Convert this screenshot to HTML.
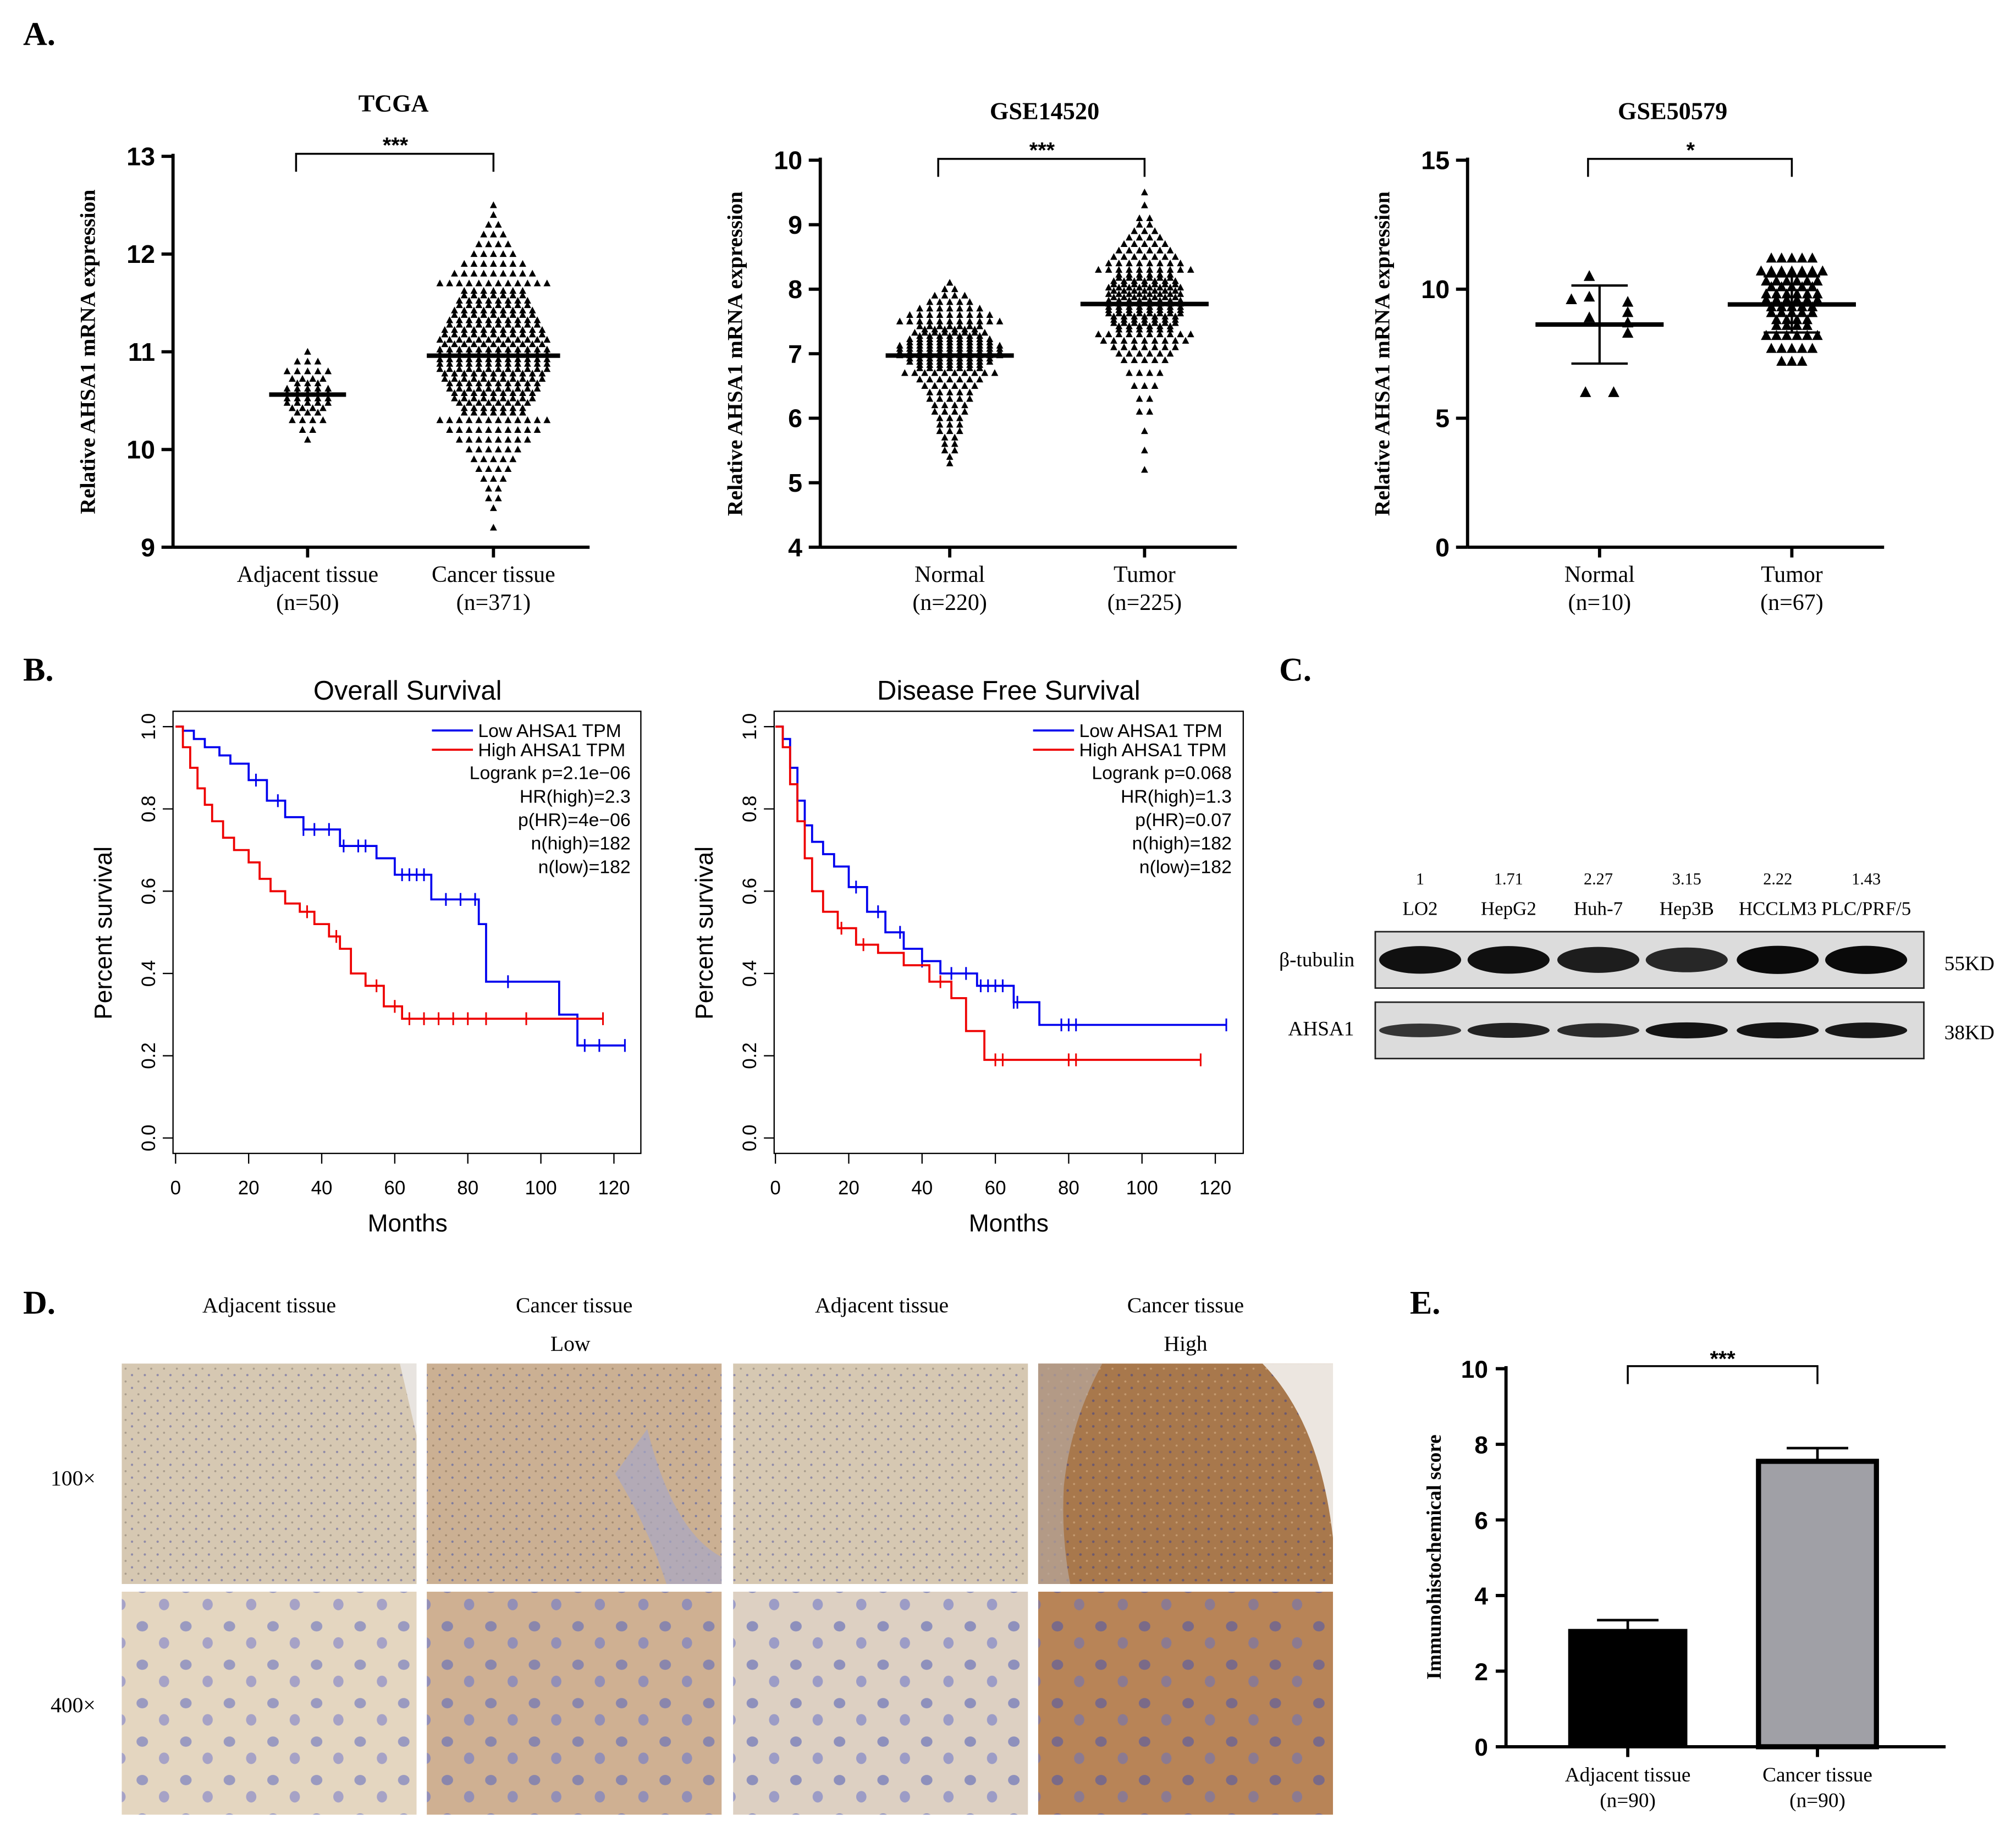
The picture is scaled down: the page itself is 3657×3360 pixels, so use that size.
<!DOCTYPE html>
<html><head><meta charset="utf-8">
<style>
html,body{margin:0;padding:0;background:#fff;}
svg{display:block;}
.serif{font-family:"Liberation Serif",serif;}
.sans{font-family:"Liberation Sans",sans-serif;}
</style></head>
<body>
<svg id="fig" width="3657" height="3360" viewBox="0 0 1569 1442" preserveAspectRatio="none" xmlns="http://www.w3.org/2000/svg">
<defs>
<pattern id="tex1" width="10" height="10" patternUnits="userSpaceOnUse">
<rect width="10" height="10" fill="#d6c8b2"/><circle cx="3" cy="3" r="0.9" fill="#8f8aa8"/><circle cx="8" cy="8" r="0.8" fill="#a89c8c"/>
</pattern>
<pattern id="tex2" width="10" height="10" patternUnits="userSpaceOnUse">
<rect width="10" height="10" fill="#cbb093"/><circle cx="3" cy="3" r="0.9" fill="#7f7c9e"/><circle cx="8" cy="8" r="0.8" fill="#a48b70"/>
</pattern>
<pattern id="tex3" width="10" height="10" patternUnits="userSpaceOnUse">
<rect width="10" height="10" fill="#a8784c"/><circle cx="3" cy="3" r="1" fill="#6e5a6e"/><circle cx="8" cy="8" r="0.8" fill="#c49a70"/>
</pattern>
<pattern id="cells1" width="34" height="30" patternUnits="userSpaceOnUse">
<rect width="34" height="30" fill="#e4d6c0"/><ellipse cx="9" cy="9" rx="4.5" ry="4" fill="#9a9ac0"/><ellipse cx="26" cy="22" rx="4" ry="4.5" fill="#a6a2c6"/>
</pattern>
<pattern id="cells2" width="34" height="30" patternUnits="userSpaceOnUse">
<rect width="34" height="30" fill="#cfb092"/><ellipse cx="9" cy="9" rx="4.5" ry="4" fill="#8a86ac"/><ellipse cx="26" cy="22" rx="4" ry="4.5" fill="#938fb6"/>
</pattern>
<pattern id="cells3" width="34" height="30" patternUnits="userSpaceOnUse">
<rect width="34" height="30" fill="#ddd0c2"/><ellipse cx="9" cy="9" rx="4.5" ry="4" fill="#8e90bc"/><ellipse cx="26" cy="22" rx="4" ry="4.5" fill="#9c9cc6"/>
</pattern>
<pattern id="cells4" width="34" height="30" patternUnits="userSpaceOnUse">
<rect width="34" height="30" fill="#b88457"/><ellipse cx="9" cy="9" rx="4.5" ry="4" fill="#7a6a88"/><ellipse cx="26" cy="22" rx="4" ry="4.5" fill="#8c7a90"/>
</pattern>
</defs>

<g class="serif" font-size="26" font-weight="bold">
<text x="18" y="35">A.</text>
<text x="18" y="531">B.</text>
<text x="998" y="531">C.</text>
<text x="18" y="1025">D.</text>
<text x="1100" y="1025">E.</text>
</g>

<g id="panelA"></g>
<g id="panelB" class="sans"></g>
<g id="panelC" class="serif"></g>
<g id="panelD" class="serif"></g>
<g id="panelE" class="serif"></g>
</svg>

<script>
// ---------- DATA ----------
const tcgaAdjBins = [10.1,10.2,10.3,10.4,10.5,10.6,10.7,10.8,10.9,11.0];
const tcgaAdjCounts = [1,2,4,7,10,10,7,5,3,1];
const tcgaCanBins = [9.2,9.3,9.4,9.5,9.6,9.7,9.8,9.9,10.0,10.1,10.2,10.3,10.4,10.5,10.6,10.7,10.8,10.9,11.0,11.1,11.2,11.3,11.4,11.5,11.6,11.7,11.8,11.9,12.0,12.1,12.2,12.3,12.4,12.5];
const tcgaCanCounts = [1,0,1,2,2,3,4,5,6,8,10,12,14,17,19,21,23,24,24,23,22,20,18,16,14,12,9,7,5,4,3,2,1,1];
const g14NorBins = [5.3,5.4,5.5,5.6,5.7,5.8,5.9,6.0,6.1,6.2,6.3,6.4,6.5,6.6,6.7,6.8,6.9,7.0,7.1,7.2,7.3,7.4,7.5,7.6,7.7,7.8,7.9,8.0,8.1];
const g14NorCounts = [1,1,2,2,2,3,3,3,4,4,5,5,6,7,10,14,18,22,22,18,15,13,11,9,7,5,4,2,1];
const g14TumBins = [5.2,5.5,5.8,6.1,6.3,6.5,6.7,6.9,7.0,7.1,7.2,7.3,7.4,7.5,7.6,7.7,7.8,7.9,8.0,8.1,8.2,8.3,8.4,8.5,8.6,8.7,8.8,8.9,9.0,9.1,9.3,9.5];
const g14TumCounts = [1,1,1,2,2,3,4,5,6,7,9,10,12,14,15,16,16,15,15,14,12,10,8,7,6,5,4,3,2,2,1,1];
const g50NorValues = [10.5,9.7,9.6,9.5,9.1,8.9,8.7,8.3,6.0,6.0];
const g50TumBins = [7.2,7.7,8.2,8.7,9.2,9.7,10.2,10.7,11.2];
const g50TumCounts = [3,5,6,8,10,12,11,7,5];
const osLowT = [0,2,5,8,12,15,20,25,30,35,45,55,60,70,83,85,105,110,123];
const osLowS = [1,0.99,0.97,0.95,0.93,0.91,0.87,0.82,0.78,0.75,0.71,0.68,0.64,0.58,0.52,0.38,0.30,0.225,0.225];
const osLowCens = [22,28,35,38,42,46,50,52,62,64,66,68,74,78,82,91,112,116,123];
const osHighT = [0,2,4,6,8,10,13,16,20,23,26,30,34,38,42,45,48,52,57,62,117];
const osHighS = [1,0.95,0.90,0.85,0.81,0.77,0.73,0.70,0.67,0.63,0.60,0.57,0.55,0.52,0.49,0.46,0.40,0.37,0.32,0.29,0.29];
const osHighCens = [36,44,55,60,64,68,72,76,80,85,96,117];
const dfsLowT = [0,2,4,6,8,10,13,16,20,25,30,35,40,45,55,65,72,123];
const dfsLowS = [1,0.97,0.90,0.82,0.76,0.72,0.69,0.66,0.61,0.55,0.50,0.46,0.43,0.40,0.37,0.33,0.275,0.275];
const dfsLowCens = [22,28,34,40,48,52,56,58,60,62,65,66,78,80,82,123];
const dfsHighT = [0,2,4,6,8,10,13,17,22,28,35,42,48,52,57,116];
const dfsHighS = [1,0.95,0.86,0.77,0.68,0.60,0.55,0.51,0.47,0.45,0.42,0.38,0.34,0.26,0.19,0.19];
const dfsHighCens = [18,24,45,60,62,80,82,116];
const blotLanes = ["LO2","HepG2","Huh-7","Hep3B","HCCLM3","PLC/PRF/5"];
const blotRatios = ["1","1.71","2.27","3.15","2.22","1.43"];
const tubulinIntensity = [0.95,0.95,0.8,0.7,1.0,1.0];
const ahsaIntensity = [0.55,0.75,0.65,0.9,0.9,0.85];
const ihcCats = ["Adjacent  tissue","Cancer tissue"];
const ihcN = ["(n=90)","(n=90)"];
const ihcMeans = [3.1,7.55];
const ihcErr = [0.25,0.35];

// ---------- HELPERS ----------
const NS="http://www.w3.org/2000/svg";
function mk(tag, attrs, parent){const e=document.createElementNS(NS,tag);for(const k in attrs)e.setAttribute(k,attrs[k]);parent.appendChild(e);return e;}
function txt(parent,x,y,s,attrs){const e=mk('text',Object.assign({x:x,y:y},attrs||{}),parent);e.textContent=s;return e;}
function tri(cx,cy,s){return `M${cx},${cy-s*0.6}L${cx+s*0.55},${cy+s*0.45}L${cx-s*0.55},${cy+s*0.45}Z`;}

// ---------- PANEL A ----------
const A=document.getElementById('panelA');
function scatterPanel(cfg){
  const g=mk('g',{},A);
  
  
  const y=v=>cfg.y0-(v-cfg.vmin)*(cfg.y0-cfg.y1)/(cfg.vmax-cfg.vmin);
  let e=mk('line',{x1:cfg.x0,y1:cfg.y1-2,x2:cfg.x0,y2:cfg.y0,stroke:'#000','stroke-width':2.5},g);
  
  
  e=mk('line',{x1:cfg.x0,y1:cfg.y0,x2:cfg.xe,y2:cfg.y0,stroke:'#000','stroke-width':2.5},g);
  
  
  cfg.ticks.forEach(t=>{
    e=mk('line',{x1:cfg.x0-9,y1:y(t),x2:cfg.x0,y2:y(t),stroke:'#000','stroke-width':2.5},g);
    
    
    e=txt(g,cfg.x0-14,y(t)+7,String(t),{'text-anchor':'end','font-family':'Liberation Sans, sans-serif','font-weight':'bold','font-size':20});
    
    
  });
  cfg.cx.forEach(x=>{
    e=mk('line',{x1:x,y1:cfg.y0,x2:x,y2:cfg.y0+8,stroke:'#000','stroke-width':2.5},g);
    
    
  });
  e=txt(g,cfg.titleX,cfg.titleY,cfg.title,{'text-anchor':'middle','font-family':'Liberation Serif, serif','font-weight':'bold','font-size':19});
  
  
  e=txt(g,0,0,'Relative AHSA1 mRNA expression',{'text-anchor':'middle','font-family':'Liberation Serif, serif','font-weight':'bold','font-size':17,transform:`translate(${cfg.x0-61},${(cfg.y0+cfg.y1)/2}) rotate(-90)`});
  
  
  cfg.labels.forEach((l,i)=>{
    e=txt(g,cfg.lx[i],cfg.y0+27,l[0],{'text-anchor':'middle','font-family':'Liberation Serif, serif','font-size':18});
    
    
    e=txt(g,cfg.lx[i],cfg.y0+49,l[1],{'text-anchor':'middle','font-family':'Liberation Serif, serif','font-size':18});
    
    
  });
  const by=cfg.bracketY;
  e=mk('path',{d:`M${cfg.cx[0]-9},${by+14}V${by}H${cfg.cx[1]}V${by+14}`,fill:'none',stroke:'#000','stroke-width':1.5},g);
  
  
  e=txt(g,(cfg.cx[0]+cfg.cx[1])/2-4,by-1,cfg.sig,{'text-anchor':'middle','font-family':'Liberation Sans, sans-serif','font-weight':'bold','font-size':17});
  
  
  cfg.groups.forEach((grp,gi)=>{
    const cx=cfg.cx[gi];
    const vals=[];
    if(grp.values){grp.values.forEach(v=>vals.push(v));}
    else grp.bins.forEach((b,i)=>{for(let k=0;k<grp.counts[i];k++)vals.push(b);});
    if(grp.values){
      const byV={};grp.values.forEach(v=>{byV[v]=(byV[v]||0)+1;});
      const used={};
      grp.values.forEach(v=>{
        const n=byV[v];const k=used[v]||0;used[v]=k+1;
        const offs=[-22,-8,8,22,-30,30];
        const px=cx+(n===1?offs[(Math.round(v*10))%4]:(k-(n-1)/2)*22);
        const p=mk('path',{d:tri(px,y(v),grp.size),fill:'#000'},g);
        
        
      });
    } else {
      grp.bins.forEach((b,i)=>{
        const n=grp.counts[i];if(!n)return;
        const rows=Math.ceil(n/grp.maxRow);
        let left=n;
        for(let r=0;r<rows;r++){
          const m=Math.ceil(left/(rows-r));left-=m;
          const yo=y(b)+(rows>1?(r-(rows-1)/2)*grp.rowGap:0);
          for(let k=0;k<m;k++){
            const px=cx+(k-(m-1)/2)*grp.sp;
            const p=mk('path',{d:tri(px,yo,grp.size),fill:'#000'},g);
            
            
          }
        }
      });
    }
    const mean=vals.reduce((a,b)=>a+b,0)/vals.length;
    const sd=Math.sqrt(vals.reduce((a,b)=>a+(b-mean)*(b-mean),0)/(vals.length-1));
    e=mk('line',{x1:cx-grp.meanW,y1:y(mean),x2:cx+grp.meanW,y2:y(mean),stroke:'#000','stroke-width':3.5},g);
    
    
    if(grp.sd){
      e=mk('path',{d:`M${cx},${y(mean+sd)}V${y(mean-sd)}M${cx-22},${y(mean+sd)}H${cx+22}M${cx-22},${y(mean-sd)}H${cx+22}`,stroke:'#000','stroke-width':1.8,fill:'none'},g);
      
      
    }
  });
}
scatterPanel({name:'tcga-scatter-chart',x0:135,xe:460,y0:427,y1:122,vmin:9,vmax:13,ticks:[9,10,11,12,13],
  cx:[240,385],lx:[240,385],labels:[["Adjacent tissue","(n=50)"],["Cancer tissue","(n=371)"]],
  title:'TCGA',titleX:307,titleY:87,bracketY:120,sig:'***',
  groups:[{bins:tcgaAdjBins,counts:tcgaAdjCounts,maxRow:6,sp:8,rowGap:3.5,size:5,meanW:30},
          {bins:tcgaCanBins,counts:tcgaCanCounts,maxRow:13,sp:7.6,rowGap:3.5,size:5,meanW:52}]});
scatterPanel({name:'gse14520-scatter-chart',x0:640,xe:965,y0:427,y1:125,vmin:4,vmax:10,ticks:[4,5,6,7,8,9,10],
  cx:[741,893],lx:[741,893],labels:[["Normal","(n=220)"],["Tumor","(n=225)"]],
  title:'GSE14520',titleX:815,titleY:93,bracketY:124,sig:'***',
  groups:[{bins:g14NorBins,counts:g14NorCounts,maxRow:12,sp:7.8,rowGap:2.5,size:5,meanW:50},
          {bins:g14TumBins,counts:g14TumCounts,maxRow:10,sp:8,rowGap:2.5,size:5,meanW:50}]});
scatterPanel({name:'gse50579-scatter-chart',x0:1145,xe:1470,y0:427,y1:125,vmin:0,vmax:15,ticks:[0,5,10,15],
  cx:[1248,1398],lx:[1248,1398],labels:[["Normal","(n=10)"],["Tumor","(n=67)"]],
  title:'GSE50579',titleX:1305,titleY:93,bracketY:124,sig:'*',
  groups:[{values:g50NorValues,size:8,meanW:50,sd:true},
          {bins:g50TumBins,counts:g50TumCounts,maxRow:7,sp:8,rowGap:4.5,size:7.5,meanW:50,sd:true}]});

// ---------- PANEL B ----------
const B=document.getElementById('panelB');
function kmPanel(cfg){
  const g=mk('g',{},B);
  
  
  const xs=t=>cfg.x0+t*cfg.kx, ys=s=>888-s*321;
  let e=mk('rect',{x:cfg.bx,y:555,width:cfg.bw,height:345,fill:'none',stroke:'#000','stroke-width':1},g);
  
  
  [0,20,40,60,80,100,120].forEach(t=>{
    e=mk('line',{x1:xs(t),y1:900,x2:xs(t),y2:908,stroke:'#000'},g);
    
    
    e=txt(g,xs(t),932,String(t),{'text-anchor':'middle','font-size':15});
    
    
  });
  [0,0.2,0.4,0.6,0.8,1.0].forEach(s=>{
    e=mk('line',{x1:cfg.bx-8,y1:ys(s),x2:cfg.bx,y2:ys(s),stroke:'#000'},g);
    
    
    e=txt(g,0,0,s.toFixed(1),{'text-anchor':'middle','font-size':15,transform:`translate(${cfg.bx-14},${ys(s)}) rotate(-90)`});
    
    
  });
  e=txt(g,cfg.bx+183,546,cfg.title,{'text-anchor':'middle','font-size':21});
  
  
  e=txt(g,cfg.bx+183,961,'Months',{'text-anchor':'middle','font-size':19});
  
  
  e=txt(g,0,0,'Percent survival',{'text-anchor':'middle','font-size':19,transform:`translate(${cfg.bx-48},728) rotate(-90)`});
  
  
  function curve(T,S,C,color,nm){
    let d=`M${xs(T[0])},${ys(S[0])}`;
    for(let i=1;i<T.length;i++){d+=`H${xs(T[i])}V${ys(S[i])}`;}
    const p=mk('path',{d:d,fill:'none',stroke:color,'stroke-width':1.6},g);
    
    
    C.forEach(t=>{
      let s=S[0];for(let i=0;i<T.length;i++){if(T[i]<=t)s=S[i];}
      const c=mk('path',{d:`M${xs(t)},${ys(s)-5}V${ys(s)+5}`,stroke:color,'stroke-width':1.3},g);
      
      
    });
  }
  curve(cfg.lowT,cfg.lowS,cfg.lowC,'#0000ee','low-ahsa1-curve');
  curve(cfg.highT,cfg.highS,cfg.highC,'#ee0000','high-ahsa1-curve');
  const lx=cfg.legX;
  e=mk('line',{x1:lx,y1:570,x2:lx+32,y2:570,stroke:'#0000ee','stroke-width':1.6},g);
  
  
  e=txt(g,lx+36,575,'Low AHSA1 TPM',{'font-size':14.5});
  
  
  e=mk('line',{x1:lx,y1:585,x2:lx+32,y2:585,stroke:'#ee0000','stroke-width':1.6},g);
  
  
  e=txt(g,lx+36,590,'High AHSA1 TPM',{'font-size':14.5});
  
  
  cfg.stats.forEach((s,i)=>{
    e=txt(g,cfg.statX,608+i*18.3,s,{'text-anchor':'end','font-size':14.5});
    
    
  });
}
kmPanel({name:'overall-survival-chart',title:'Overall Survival',bx:135,bw:365,x0:137,kx:2.85,
  lowT:osLowT,lowS:osLowS,lowC:osLowCens,highT:osHighT,highS:osHighS,highC:osHighCens,legX:337,statX:492,
  stats:['Logrank p=2.1e\u221206','HR(high)=2.3','p(HR)=4e\u221206','n(high)=182','n(low)=182']});
kmPanel({name:'disease-free-survival-chart',title:'Disease Free Survival',bx:604,bw:366,x0:605,kx:2.86,
  lowT:dfsLowT,lowS:dfsLowS,lowC:dfsLowCens,highT:dfsHighT,highS:dfsHighS,highC:dfsHighCens,legX:806,statX:961,
  stats:['Logrank p=0.068','HR(high)=1.3','p(HR)=0.07','n(high)=182','n(low)=182']});

// ---------- PANEL C ----------
const C=document.getElementById('panelC');
const laneX=[1108,1177,1247,1316,1387,1456];
blotLanes.forEach((l,i)=>{
  let e=txt(C,laneX[i],690,blotRatios[i],{'text-anchor':'middle','font-size':13});
  
  
  e=txt(C,laneX[i],714,l,{'text-anchor':'middle','font-size':15});
  
  
});
[[727,44,'beta-tubulin-blot',tubulinIntensity,22],[782,44,'ahsa1-blot',ahsaIntensity,13]].forEach(([y0,h,nm,ints,bh])=>{
  let r=mk('rect',{x:1073,y:y0,width:428,height:h,fill:'#dcdcdc',stroke:'#222','stroke-width':1.2},C);
  
  
  ints.forEach((v,i)=>{
    const b=mk('ellipse',{cx:laneX[i],cy:y0+h/2,rx:32,ry:bh/2*(0.6+0.4*v),fill:`rgba(10,10,10,${0.55+0.45*v})`},C);
    
    
  });
});
[['\u03b2-tubulin',998,754],['AHSA1',1005,808],['55KD',1517,757],['38KD',1517,811]].forEach(([s,x,y])=>{
  const e=txt(C,x,y,s,{'font-size':16});
  
  
});

// ---------- PANEL D ----------
const D=document.getElementById('panelD');
[['Adjacent tissue',210,1024],['Cancer tissue',448,1024],['Adjacent tissue',688,1024],['Cancer tissue',925,1024],['Low',445,1054],['High',925,1054],['100\u00d7',57,1159],['400\u00d7',57,1336]].forEach(([s,x,y])=>{
  const e=txt(D,x,y,s,{'text-anchor':'middle','font-size':17});
  
  
});
const colX=[95,333,572,810];
const lowFills=['url(#tex1)','url(#tex2)','url(#tex1)','url(#tex3)'];
const highFills=['url(#cells1)','url(#cells2)','url(#cells3)','url(#cells4)'];
colX.forEach((x,i)=>{
  let r=mk('rect',{x:x,y:1064,width:230,height:172,fill:lowFills[i]},D);
  
  
  r=mk('rect',{x:x,y:1242,width:230,height:174,fill:highFills[i]},D);
  
  
});
let eD=mk('path',{d:'M312,1064H325V1120Z',fill:'#e8e4e0'},D);
eD=mk('path',{d:'M480,1150Q505,1190 520,1236H563V1215Q525,1195 505,1115Z',fill:'#a8a8c4',opacity:0.7},D);
eD=mk('path',{d:'M985,1064H1040V1200Q1030,1110 985,1064Z',fill:'#ece6e0'},D);
eD=mk('path',{d:'M810,1064H860Q835,1110 830,1160Q828,1200 835,1236H810Z',fill:'#b8a8a0',opacity:0.7},D);

// ---------- PANEL E ----------
const E=document.getElementById('panelE');
const yE=v=>1363-v*29.5;
const barCx=[1270,1418];
let eE=mk('line',{x1:1175,y1:1066,x2:1175,y2:1364,stroke:'#000','stroke-width':2.5},E);

eE=mk('line',{x1:1175,y1:1363,x2:1518,y2:1363,stroke:'#000','stroke-width':2.5},E);

[0,2,4,6,8,10].forEach(t=>{
  let e=mk('line',{x1:1167,y1:yE(t),x2:1175,y2:yE(t),stroke:'#000','stroke-width':2.5},E);
  
  
  e=txt(E,1161,yE(t)+7,String(t),{'text-anchor':'end','font-family':'Liberation Sans, sans-serif','font-weight':'bold','font-size':19});
  
  
});
eE=txt(E,0,0,'Immunohistochemical score',{'text-anchor':'middle','font-weight':'bold','font-size':16,transform:'translate(1124,1215) rotate(-90)'});

ihcMeans.forEach((v,i)=>{
  const cx=barCx[i];
  let e=mk('path',{d:`M${cx},${yE(v)}V${yE(v+ihcErr[i])}M${cx-24},${yE(v+ihcErr[i])}H${cx+24}`,stroke:'#000','stroke-width':2,fill:'none'},E);
  
  
  e=mk('rect',{x:cx-46,y:yE(v),width:92,height:yE(0)-yE(v),fill:i?'#a0a0a6':'#000',stroke:'#000','stroke-width':i?4:1},E);
  
  
  e=mk('line',{x1:cx,y1:1363,x2:cx,y2:1371,stroke:'#000','stroke-width':2.5},E);
  
  
  e=txt(E,cx,1390,ihcCats[i],{'text-anchor':'middle','font-size':16});
  
  
  e=txt(E,cx,1410,ihcN[i],{'text-anchor':'middle','font-size':16});
  
  
});
eE=mk('path',{d:`M${barCx[0]},1080V1066H${barCx[1]}V1080`,fill:'none',stroke:'#000','stroke-width':1.5},E);

eE=txt(E,1344,1066,'***',{'text-anchor':'middle','font-family':'Liberation Sans, sans-serif','font-weight':'bold','font-size':17});

</script>
</body></html>
